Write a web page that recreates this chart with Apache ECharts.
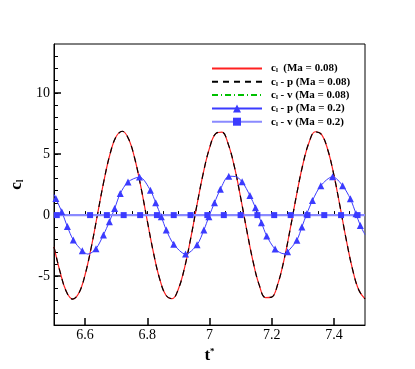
<!DOCTYPE html>
<html>
<head>
<meta charset="utf-8">
<script src="https://cdn.jsdelivr.net/npm/echarts@6/dist/echarts.min.js"></script>
<style>
  html, body { margin: 0; padding: 0; background: #fff; }
  #chart { width: 415px; height: 369px; }
</style>
</head>
<body>
<div id="chart"></div>
<script>
// time axis samples for the Ma = 0.08 curves
const tGrid = [6.50, 6.52, 6.54, 6.56, 6.58, 6.60, 6.62, 6.64, 6.66, 6.68,
  6.70, 6.72, 6.74, 6.76, 6.78, 6.80, 6.82, 6.84, 6.86, 6.88,
  6.90, 6.92, 6.94, 6.96, 6.98, 7.00, 7.02, 7.04, 7.06, 7.08,
  7.10, 7.12, 7.14, 7.16, 7.18, 7.20, 7.22, 7.24, 7.26, 7.28,
  7.30, 7.32, 7.34, 7.36, 7.38, 7.40, 7.42, 7.44, 7.46, 7.48, 7.50]

// cl (Ma = 0.08)
const clMa008 = [-2.60, -4.69, -6.28, -6.87, -6.38, -4.88, -2.61, 0.07, 2.74, 4.98,
  6.43, 6.86, 6.22, 4.59, 2.23, -0.48, -3.10, -5.24, -6.56, -6.84,
  -6.04, -4.29, -1.85, 0.88, 3.44, 5.48, 6.67, 6.79, 5.83, 3.96,
  1.46, -1.27, -3.79, -5.73, -6.75, -6.71, -5.61, -3.62, -1.07, 1.66,
  4.12, 5.94, 6.82, 6.61, 5.37, 3.28, 0.67, -2.05, -4.44, -6.13, -6.85]

// cl - p (Ma = 0.08) lies on top of cl
const clpMa008 = clMa008.slice()

// cl - v (Ma = 0.08) stays at zero
const clvT = [6.5, 7.5]
const clvMa008 = [0, 0]

// cl - p (Ma = 0.2): marker points
const clpT02 = [6.506, 6.525, 6.543, 6.562, 6.591, 6.635, 6.659, 6.678, 6.695, 6.713,
  6.738, 6.775, 6.810, 6.827, 6.845, 6.861, 6.885, 6.923, 6.960, 6.982,
  6.998, 7.016, 7.035, 7.062, 7.105, 7.130, 7.148, 7.167, 7.184, 7.211,
  7.251, 7.281, 7.297, 7.313, 7.331, 7.358, 7.396, 7.428, 7.453, 7.471, 7.485]
const clpMa02 = [1.35, 0.28, -0.94, -2.03, -2.92, -2.75, -1.62, -0.54, 0.54, 1.76,
  2.71, 3.11, 2.03, 1.01, -0.13, -1.22, -2.38, -3.19, -2.43, -1.22,
  -0.13, 1.01, 2.11, 3.18, 2.73, 1.60, 0.60, -0.62, -1.70, -2.78,
  -3.00, -2.05, -0.97, 0.11, 1.19, 2.41, 3.14, 2.41, 1.33, 0.11, -0.85]
// extra points on the same curve, drawn without markers
const clpT02Extra = [6.500, 6.609, 7.084, 7.240, 7.500]
const clpMa02Extra = [1.70, -3.19, 3.15, -3.17, -1.60]

// cl - v (Ma = 0.2): marker points
const clvT02 = [6.509, 6.616, 6.670, 6.724, 6.777, 6.831, 6.885, 6.939, 6.993, 7.046,
  7.100, 7.154, 7.208, 7.261, 7.315, 7.369, 7.423, 7.476]
const clvMa02 = [0, 0, 0, 0, 0, 0, 0, 0, 0, 0, 0, 0, 0, 0, 0, 0, 0, 0]

// axis ticks
const xMajor = [6.6, 6.8, 7.0, 7.2, 7.4]
const xMinor = [6.55, 6.6, 6.65, 6.7, 6.75, 6.8, 6.85, 6.9, 6.95, 7.0, 7.05,
  7.1, 7.15, 7.2, 7.25, 7.3, 7.35, 7.4, 7.45]
const yMajor = [-5, 0, 5, 10]
const yMinor = [-8, -7, -6, -5, -4, -3, -2, -1, 0, 1, 2, 3, 4, 5, 6, 7, 8, 9, 10, 11, 12, 13]

const pair = (ts, vs) => ts.map((t, i) => [t, vs[i]])

// merge marker and plain points of the triangle curve
const triData = pair(clpT02, clpMa02).map(p => ({ value: p }))
  .concat(pair(clpT02Extra, clpMa02Extra).map(p => ({ value: p, symbol: 'none' })))
  .sort((a, b) => a.value[0] - b.value[0])

const sqData = pair(clvT02, clvMa02).map(p => ({ value: p }))
  .concat([{ value: [6.5, 0], symbol: 'none' }, { value: [7.5, 0], symbol: 'none' }])
  .sort((a, b) => a.value[0] - b.value[0])

const serif = 'Liberation Serif'
const blue = '#3b3bff'

const chart = echarts.init(document.getElementById('chart'))

const legendText = {
  'cl (Ma = 0.08)': '{c|c}{s|l}{t|  (Ma = 0.08)}',
  'cl - p (Ma = 0.08)': '{c|c}{s|l}{t| - p (Ma = 0.08)}',
  'cl - v (Ma = 0.08)': '{c|c}{s|l}{t| - v (Ma = 0.08)}',
  'cl - p (Ma = 0.2)': '{c|c}{s|l}{t| - p (Ma = 0.2)}',
  'cl - v (Ma = 0.2)': '{c|c}{s|l}{t| - v (Ma = 0.2)}'
}

const option = {
  animation: false,
  backgroundColor: '#fff',
  grid: {
    left: 54, top: 44, right: 50, bottom: 41,
    show: true, borderColor: '#000', borderWidth: 1
  },
  legend: {
    left: 206, top: 58, orient: 'vertical',
    itemWidth: 50, itemHeight: 10, itemGap: 2.3,
    // lines only for the first three entries
    data: [
      { name: 'cl (Ma = 0.08)', itemStyle: { opacity: 0 } },
      { name: 'cl - p (Ma = 0.08)', itemStyle: { opacity: 0 } },
      { name: 'cl - v (Ma = 0.08)', itemStyle: { opacity: 0 } },
      'cl - p (Ma = 0.2)',
      'cl - v (Ma = 0.2)'
    ],
    formatter: name => legendText[name],
    textStyle: {
      fontFamily: serif, fontWeight: 'bold', fontSize: 11, color: '#000',
      padding: [0, 0, 0, 4],
      rich: {
        c: { fontFamily: serif, fontWeight: 'bold', fontSize: 11 },
        s: { fontFamily: serif, fontWeight: 'bold', fontSize: 7, verticalAlign: 'bottom', padding: [4, 0, 0, 0] },
        t: { fontFamily: serif, fontWeight: 'bold', fontSize: 11 }
      }
    }
  },
  xAxis: [
    {
      type: 'value', min: 6.5, max: 7.5,
      name: '{t|t}{s|*}', nameLocation: 'middle', nameGap: 18,
      nameTextStyle: {
        rich: {
          t: { fontFamily: serif, fontWeight: 'bold', fontSize: 17, color: '#000' },
          s: { fontFamily: serif, fontWeight: 'bold', fontSize: 9, color: '#000', verticalAlign: 'top', padding: [0, 0, 8, 0] }
        }
      },
      axisLine: { onZero: false, lineStyle: { color: '#000' } },
      axisTick: { inside: true, length: 7, customValues: xMajor, lineStyle: { color: '#000', width: 1.5 } },
      axisLabel: {
        customValues: xMajor, margin: 3, fontFamily: serif, fontSize: 14, color: '#000',
        formatter: v => String(Math.round(v * 10) / 10)
      },
      splitLine: { show: false }
    },
    {
      type: 'value', min: 6.5, max: 7.5, position: 'bottom',
      axisLine: { show: false },
      axisTick: { inside: true, length: 4, customValues: xMinor, lineStyle: { color: '#000' } },
      axisLabel: { show: false },
      splitLine: { show: false }
    }
  ],
  yAxis: [
    {
      type: 'value', min: -9, max: 14,
      name: '{c|c}{s|l}', nameLocation: 'middle', nameGap: 23, nameRotate: 90,
      nameTextStyle: {
        rich: {
          c: { fontFamily: serif, fontWeight: 'bold', fontSize: 17, color: '#000' },
          s: { fontFamily: serif, fontWeight: 'bold', fontSize: 10, color: '#000', verticalAlign: 'bottom', padding: [6, 0, 0, 0] }
        }
      },
      axisLine: { onZero: false, lineStyle: { color: '#000' } },
      axisTick: { inside: true, length: 7, customValues: yMajor, lineStyle: { color: '#000', width: 1.5 } },
      axisLabel: { customValues: yMajor, margin: 4, fontFamily: serif, fontSize: 14, color: '#000' },
      splitLine: { show: false }
    },
    {
      type: 'value', min: -9, max: 14, position: 'left',
      axisLine: { show: false },
      axisTick: { inside: true, length: 4, customValues: yMinor, lineStyle: { color: '#000' } },
      axisLabel: { show: false },
      splitLine: { show: false }
    }
  ],
  series: [
    {
      name: 'cl (Ma = 0.08)', type: 'line', smooth: 0.4, symbol: 'none',
      data: pair(tGrid, clMa008),
      lineStyle: { color: '#ff2020', width: 1.2 }, itemStyle: { color: '#ff2020' }
    },
    {
      name: 'cl - p (Ma = 0.08)', type: 'line', smooth: 0.4, symbol: 'none',
      data: pair(tGrid, clpMa008),
      lineStyle: { color: '#000', width: 1.2, type: [6, 5] }, itemStyle: { color: '#000' }
    },
    {
      name: 'cl - v (Ma = 0.08)', type: 'line', symbol: 'none',
      data: pair(clvT, clvMa008),
      lineStyle: { color: '#00c000', width: 1, type: [6, 3, 1, 3] }, itemStyle: { color: '#00c000' }
    },
    {
      name: 'cl - p (Ma = 0.2)', type: 'line', smooth: 0.3,
      symbol: 'triangle', symbolSize: 7, showAllSymbol: true,
      data: triData,
      lineStyle: { color: blue, width: 1 }, itemStyle: { color: blue }
    },
    {
      name: 'cl - v (Ma = 0.2)', type: 'line',
      symbol: 'rect', symbolSize: 6, showAllSymbol: true,
      data: sqData,
      lineStyle: { color: '#8a8aff', width: 2.2 }, itemStyle: { color: blue }
    }
  ]
}

chart.setOption(option)
</script>
</body>
</html>
